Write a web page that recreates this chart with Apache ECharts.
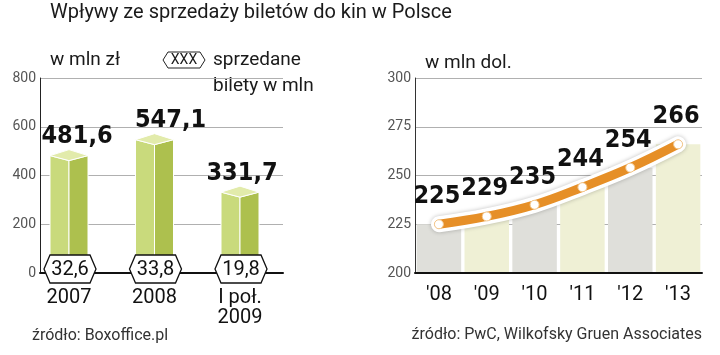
<!DOCTYPE html>
<html>
<head>
<meta charset="utf-8">
<script src="https://cdn.jsdelivr.net/npm/echarts@6/dist/echarts.min.js"></script>
<style>html,body{margin:0;padding:0;background:#fff;}#c{width:720px;height:355px;}</style>
</head>
<body>
<div id="c"></div>
<script>
// ---- data ----
var leftCategories = ['2007', '2008', 'I poł.\n2009'];
var revenuePLN = [481.6, 547.1, 331.7];
var ticketsSold = [32.6, 33.8, 19.8];
var leftTicks = [0, 200, 400, 600, 800];

var rightCategories = ["'08", "'09", "'10", "'11", "'12", "'13"];
var revenueUSD = [225, 229, 235, 244, 254, 266];
var rightTicks = [200, 225, 250, 275, 300];

// ---- style ----
var TXT = 'Roboto, "Liberation Sans", sans-serif';
var NUM = '"DejaVu Sans Condensed", "DejaVu Sans", sans-serif';
var LABEL_DX = [8, 16, 2];
function fmt(v){ return String(v).replace('.', ','); }

var chart = echarts.init(document.getElementById('c'), null, {renderer: 'canvas'});

var customData = revenuePLN.map(function(v, i){ return [i, v, ticketsSold[i]]; });

var option = {
  animation: false,
  backgroundColor: '#fff',
  grid: [
    {left: 40, top: 78, width: 243, height: 195},
    {left: 69, top: 78, width: 171, height: 195},
    {left: 415, top: 78, width: 287, height: 195}
  ],
  xAxis: [
    {gridIndex: 0, type: 'category', data: [''], axisLabel: {show: false}, axisTick: {show: false},
     axisLine: {lineStyle: {color: '#111', width: 2}}, z: 2},
    {gridIndex: 1, type: 'category', data: leftCategories, boundaryGap: false,
     axisLine: {show: false}, axisTick: {show: false},
     axisLabel: {margin: 15, color: '#111', fontSize: 20, fontFamily: TXT, lineHeight: 20, interval: 0}},
    {gridIndex: 2, type: 'category', data: rightCategories,
     axisLine: {lineStyle: {color: '#111', width: 2}}, axisTick: {show: false},
     axisLabel: {margin: 12, color: '#111', fontSize: 20, fontFamily: TXT}, z: 5}
  ],
  yAxis: [
    {gridIndex: 0, type: 'value', min: leftTicks[0], max: leftTicks[leftTicks.length-1], interval: 200,
     axisLine: {show: true, lineStyle: {color: '#222', width: 1}}, axisTick: {show: false},
     axisLabel: {margin: 4, color: '#555', fontSize: 14, fontFamily: TXT},
     splitLine: {lineStyle: {color: '#b0b0b0', width: 1}}},
    {gridIndex: 1, type: 'value', min: leftTicks[0], max: leftTicks[leftTicks.length-1], show: false},
    {gridIndex: 2, type: 'value', min: rightTicks[0], max: rightTicks[rightTicks.length-1], interval: 25,
     axisLine: {show: true, lineStyle: {color: '#333', width: 1}}, axisTick: {show: false},
     axisLabel: {margin: 4, color: '#555', fontSize: 14, fontFamily: TXT},
     splitLine: {lineStyle: {color: '#b0b0b0', width: 1}}}
  ],
  series: [
    {
      type: 'custom', xAxisIndex: 1, yAxisIndex: 1, data: customData, z: 6, clip: false,
      encode: {x: 0, y: 1},
      renderItem: function(params, api){
        var i = params.dataIndex;
        var v = api.value(1);
        var top = api.coord([api.value(0), v]);
        var base = api.coord([api.value(0), 0]);
        var cx = top[0], y0 = top[1], yb = base[1];
        var hw = 19, dn = 5, up = 6;
        var hy = yb - 4, hx = cx + 1;
        return {
          type: 'group',
          children: [
            {type: 'polygon', shape: {points: [[cx-hw, y0], [cx, y0+dn], [cx, yb], [cx-hw, yb]]},
             style: {fill: '#c9da7c', stroke: '#fff', lineWidth: 1}},
            {type: 'polygon', shape: {points: [[cx, y0+dn], [cx+hw, y0], [cx+hw, yb], [cx, yb]]},
             style: {fill: '#adc04e', stroke: '#fff', lineWidth: 1}},
            {type: 'polygon', shape: {points: [[cx-hw, y0], [cx, y0-up], [cx+hw, y0], [cx, y0+dn]]},
             style: {fill: '#e2ebab', stroke: '#fff', lineWidth: 1}},
            {type: 'text', z2: 10, style: {text: fmt(v), x: cx + LABEL_DX[i], y: y0 - 19, align: 'center', verticalAlign: 'middle',
              fontSize: 25, fontWeight: 'bold', fontFamily: NUM, fill: '#111'}},
            {type: 'polygon', z2: 10, shape: {points: [[hx-26, hy], [hx-20, hy-14], [hx+20, hy-14], [hx+26, hy], [hx+20, hy+14], [hx-20, hy+14]]},
             style: {fill: '#fff', stroke: '#111', lineWidth: 1.3}},
            {type: 'text', z2: 11, style: {text: fmt(api.value(2)), x: hx, y: hy + 1, align: 'center', verticalAlign: 'middle',
              fontSize: 20, fontFamily: TXT, fill: '#111'}}
          ]
        };
      }
    },
    {
      type: 'bar', xAxisIndex: 2, yAxisIndex: 2, barCategoryGap: '7%', clip: true, z: 1,
      data: revenueUSD.map(function(v, i){ return {value: v, itemStyle: {color: i % 2 === 0 ? '#dfdfda' : '#eff0d5'}}; })
    },
    {
      type: 'line', xAxisIndex: 2, yAxisIndex: 2, data: revenueUSD, smooth: 0.4, z: 4,
      symbol: 'none', silent: true,
      lineStyle: {color: '#fff', width: 16, cap: 'round', shadowColor: 'rgba(0,0,0,0.25)', shadowBlur: 4}
    },
    {
      type: 'line', xAxisIndex: 2, yAxisIndex: 2, data: revenueUSD, smooth: 0.4, z: 5,
      symbol: 'circle', symbolSize: 9, itemStyle: {color: '#fff', borderColor: '#f3c68a', borderWidth: 1},
      lineStyle: {color: '#e68f27', width: 9, cap: 'round'},
      label: {show: true, position: 'top', distance: 10, offset: [-2, 0], fontSize: 25, fontWeight: 'bold', fontFamily: NUM, color: '#111'}
    }
  ],
  graphic: [
    {type: 'text', left: 50, top: 3, style: {text: 'Wpływy ze sprzedaży biletów do kin w Polsce', fontSize: 20, fontFamily: TXT, fill: '#1a1a1a'}},
    {type: 'text', left: 50, top: 51, style: {text: 'w mln zł', fontSize: 19, fontFamily: TXT, fill: '#1a1a1a'}},
    {type: 'polygon', shape: {points: [[163, 60], [168, 52], [200, 52], [205, 60], [200, 68], [168, 68]]},
     style: {fill: '#fff', stroke: '#222', lineWidth: 1}},
    {type: 'text', x: 184, y: 60, style: {text: 'XXX', align: 'center', verticalAlign: 'middle', fontSize: 14, fontFamily: TXT, fill: '#1a1a1a'}},
    {type: 'text', x: 213, y: 60, style: {text: 'sprzedane', verticalAlign: 'middle', fontSize: 19, fontFamily: TXT, fill: '#1a1a1a'}},
    {type: 'text', x: 213, y: 86, style: {text: 'bilety w mln', verticalAlign: 'middle', fontSize: 19, fontFamily: TXT, fill: '#1a1a1a'}},
    {type: 'text', x: 425, y: 63, style: {text: 'w mln dol.', verticalAlign: 'middle', fontSize: 19, fontFamily: TXT, fill: '#1a1a1a'}},
    {type: 'text', x: 32, y: 336, style: {text: 'źródło: Boxoffice.pl', verticalAlign: 'middle', fontSize: 16, fontFamily: TXT, fill: '#333'}},
    {type: 'text', x: 702, y: 335, style: {text: 'źródło: PwC, Wilkofsky Gruen Associates', align: 'right', verticalAlign: 'middle', fontSize: 16, fontFamily: TXT, fill: '#333'}}
  ]
};
chart.setOption(option);
</script>
</body>
</html>
